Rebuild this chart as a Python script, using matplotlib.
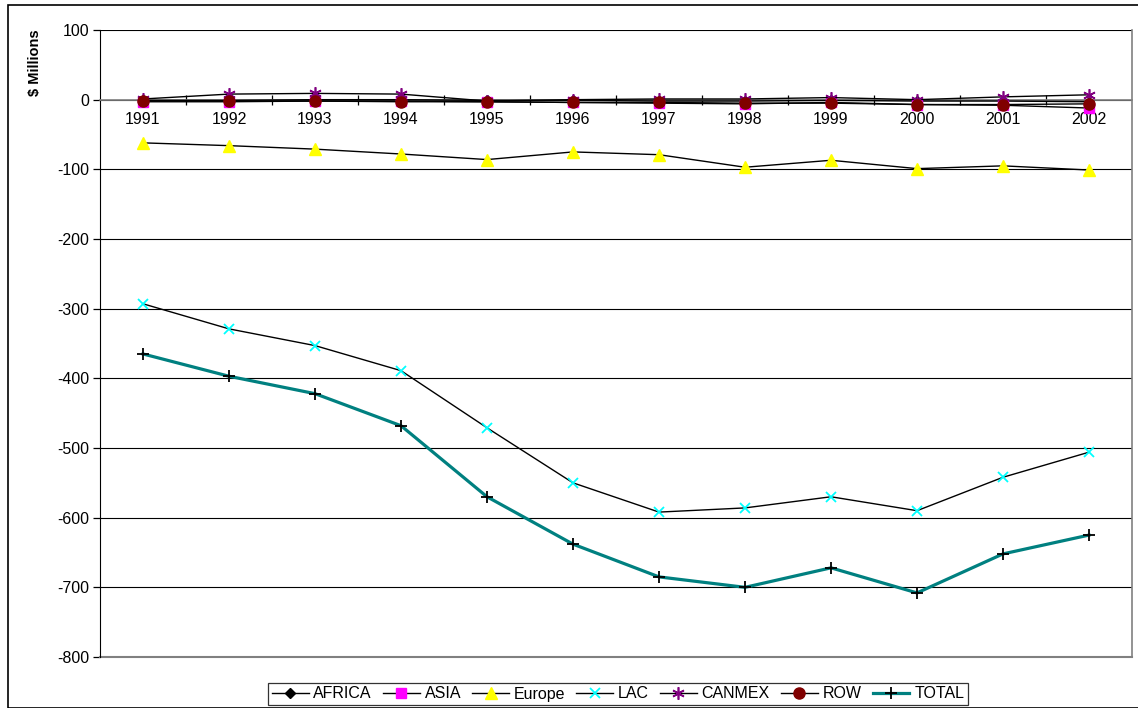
import matplotlib
matplotlib.use("Agg")
import matplotlib.pyplot as plt
from matplotlib.patches import Rectangle

plt.rcParams["font.family"] = ["Liberation Sans", "DejaVu Sans"]

years = ["1991", "1992", "1993", "1994", "1995", "1996",
         "1997", "1998", "1999", "2000", "2001", "2002"]

africa = [-1, -1, 0, 0, -1, -1, -2, -2, -1, -2, -2, -3]
asia = [-3, -3, -2, -2, -3, -4, -5, -6, -4, -7, -8, -12]
europe = [-62, -66, -71, -78, -86, -75, -79, -97, -87, -99, -95, -101]
lac = [-293, -329, -353, -389, -471, -550, -592, -586, -570, -590, -542, -506]
canmex = [1, 8, 9, 8, -2, 0, 1, 1, 3, 0, 4, 7]
row = [-2, -2, -2, -3, -3, -4, -4, -5, -5, -7, -7, -6]
total = [-365, -397, -422, -468, -570, -638, -685, -700, -672, -708, -652, -625]

y_ticks = [100, 0, -100, -200, -300, -400, -500, -600, -700, -800]

fig = plt.figure(figsize=(11.38, 7.08), dpi=100, facecolor="white")
ax = fig.add_axes([100 / 1138, 1 - 657 / 708, 1032 / 1138, 627 / 708])

# chart area frame
fig.patches.append(Rectangle((8 / 1138, 0), 1.2, 1 - 5 / 708, transform=fig.transFigure,
                             fill=False, edgecolor="black", linewidth=1.2))

x = list(range(len(years)))
thin = 1.0
ax.plot(x, africa, color="black", lw=thin, marker="D", ms=5,
        mfc="black", mec="black", label="AFRICA", zorder=3)
ax.plot(x, asia, color="black", lw=thin, marker="s", ms=7.5,
        mfc="#ff00ff", mec="#ff00ff", label="ASIA", zorder=3)
ax.plot(x, europe, color="black", lw=thin, marker="^", ms=8.5,
        mfc="#ffff00", mec="#ffff00", label="Europe", zorder=3)
ax.plot(x, lac, color="black", lw=thin, marker="x", ms=7, mew=1.3,
        mec="#00ffff", label="LAC", zorder=3)
ax.plot(x, canmex, color="black", lw=thin, marker=(6, 2, 0), ms=9, mew=1.2,
        mec="#800080", label="CANMEX", zorder=3)
ax.plot(x, row, color="black", lw=thin, marker="o", ms=8,
        mfc="#800000", mec="#800000", label="ROW", zorder=3)
ax.plot(x, total, color="#008080", lw=2.3, marker="+", ms=9, mew=1.3,
        mec="black", label="TOTAL", zorder=4)

ax.set_xlim(-0.5, len(years) - 0.5)
ax.set_ylim(-800, 100)
ax.set_yticks(y_ticks)
ax.set_yticklabels([str(v) for v in y_ticks], fontsize=11.5)
ax.tick_params(axis="y", direction="out", length=5, width=0.9, pad=3)
ax.grid(axis="y", color="black", linewidth=0.8)
ax.set_axisbelow(True)

# category axis crossing at zero
ax.spines["bottom"].set_position(("data", 0))
ax.spines["bottom"].set_color("#808080")
ax.spines["bottom"].set_linewidth(1.2)
ax.set_xticks(x)
ax.set_xticklabels(years, fontsize=11.5)
ax.set_xticks([i + 0.5 for i in x[:-1]], minor=True)
ax.tick_params(axis="x", which="major", length=0, pad=9)
ax.tick_params(axis="x", which="minor", direction="inout", length=7, width=0.9)
ax.spines["left"].set_color("black")
ax.spines["top"].set_visible(False)
ax.spines["right"].set_color("#808080")
ax.spines["right"].set_linewidth(1.2)
ax.axhline(-800, color="#808080", lw=1.5, clip_on=False, zorder=1)

fig.text(35 / 1138, 1 - 63 / 708, "$ Millions", rotation=90, ha="center", va="center",
         fontsize=10.5, fontweight="bold")

leg = fig.legend(loc="center", bbox_to_anchor=(618 / 1138, 1 - 694 / 708), ncol=7,
                 fontsize=11.5, frameon=True, fancybox=False, edgecolor="black",
                 handlelength=2.3, handletextpad=0.3, columnspacing=0.7,
                 borderpad=0.25)
leg.get_frame().set_linewidth(0.9)

fig.savefig("out.png", dpi=100, facecolor="white")
